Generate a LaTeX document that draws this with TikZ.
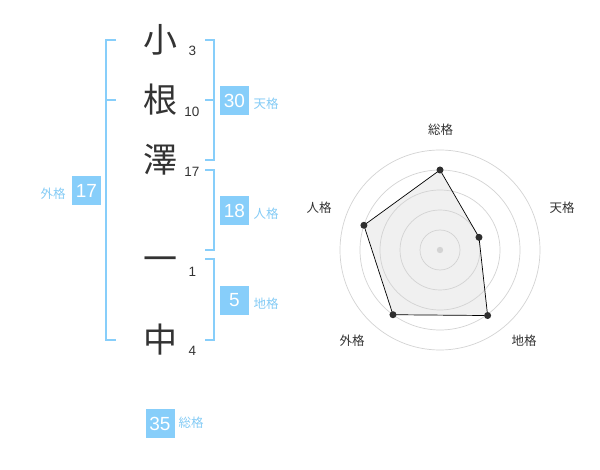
\documentclass[tikz,border=0pt]{standalone}
\usepackage{fontspec}
\setmainfont{Liberation Sans}
\newfontfamily\cjk{Noto Sans CJK JP}
\definecolor{skyb}{HTML}{87CEFA}
\definecolor{lbltxt}{HTML}{84CBF5}
\definecolor{ink}{HTML}{333333}
\definecolor{ring}{HTML}{D3D3D3}
\definecolor{polyfill}{HTML}{F0F0F0}
\tikzset{
  kanji/.style={anchor=base, inner sep=0pt, text=ink, font=\cjk\fontsize{34}{34}\selectfont},
  strokes/.style={inner sep=0pt, text=ink, font=\fontsize{13.5}{13.5}\selectfont},
  bracket/.style={draw=skyb, line width=2pt},
  valbox/.style={fill=skyb, text=white, minimum size=29pt, inner sep=0pt, font=\fontsize{19}{19}\selectfont},
  vallabel/.style={inner sep=0pt, text=lbltxt, font=\cjk\fontsize{12.5}{12.5}\selectfont},
  radlabel/.style={inner sep=0pt, text=ink, font=\cjk\fontsize{12.5}{12.5}\selectfont},
  vdot/.style={circle, fill=ink!90!black, inner sep=0pt, minimum size=7pt},
}
\begin{document}
\begin{tikzpicture}[x=1pt,y=-1pt]
\useasboundingbox (0,0) rectangle (600,470);
% characters
\node[kanji] (c1) at (160,53) {小};
\node[kanji] (c2) at (160,113) {根};
\node[kanji] (c3) at (160,173) {澤};
\node[kanji] (c4) at (160,272) {一};
\node[kanji] (c5) at (160,353) {中};
% stroke counts
\node[strokes] (s1) at (192.5,51) {3};
\node[strokes] (s2) at (192,112) {10};
\node[strokes] (s3) at (192,172) {17};
\node[strokes] (s4) at (192.5,272) {1};
\node[strokes] (s5) at (192.5,351) {4};
% brackets
\draw[bracket] (116,40) -- (106,40) -- (106,340) -- (116,340);
\draw[bracket] (106,100) -- (116,100);
\draw[bracket] (205,40) -- (214,40) -- (214,160) -- (205,160);
\draw[bracket] (205,100) -- (214,100);
\draw[bracket] (205,170) -- (214,170) -- (214,250) -- (205,250);
\draw[bracket] (205,259) -- (214,259) -- (214,340) -- (205,340);
% value boxes
\node[valbox] (gai) at (86.5,190.5) {17};
\node[vallabel] (gail) at (53,194) {外格};
\node[valbox] (ten) at (234.5,100.5) {30};
\node[vallabel] (tenl) at (266,104) {天格};
\node[valbox] (jin) at (234.5,210.5) {18};
\node[vallabel] (jinl) at (266,214) {人格};
\node[valbox] (chi) at (234.5,300.5) {5};
\node[vallabel] (chil) at (266,304) {地格};
\node[valbox] (sou) at (160,423.5) {35};
\node[vallabel] (soul) at (191,423) {総格};
% radar chart
\begin{scope}[shift={(440,250)}, yscale=-1]
  \coordinate (rc) at (0,0);
  \coordinate (p1) at (90:80);
  \coordinate (p2) at (18:41);
  \coordinate (p3) at (-54:81);
  \coordinate (p4) at (-126:80);
  \coordinate (p5) at (162:80);
  \fill[polyfill] (p1) -- (p2) -- (p3) -- (p4) -- (p5) -- cycle;
  \foreach \r in {20,40,60,80,100} \draw[ring, line width=0.7pt] (rc) circle (\r);
  \fill[ring] (rc) circle (3.2);
  \draw[black, line width=0.7pt] (p1) -- (p2) -- (p3) -- (p4) -- (p5) -- cycle;
  \foreach \p in {p1,p2,p3,p4,p5} \node[vdot] at (\p) {};
\end{scope}
\node[radlabel] (r1) at (440.5,130) {総格};
\node[radlabel] (r2) at (562,208) {天格};
\node[radlabel] (r3) at (524,341) {地格};
\node[radlabel] (r4) at (352,341) {外格};
\node[radlabel] (r5) at (319,208) {人格};
\end{tikzpicture}
\end{document}
